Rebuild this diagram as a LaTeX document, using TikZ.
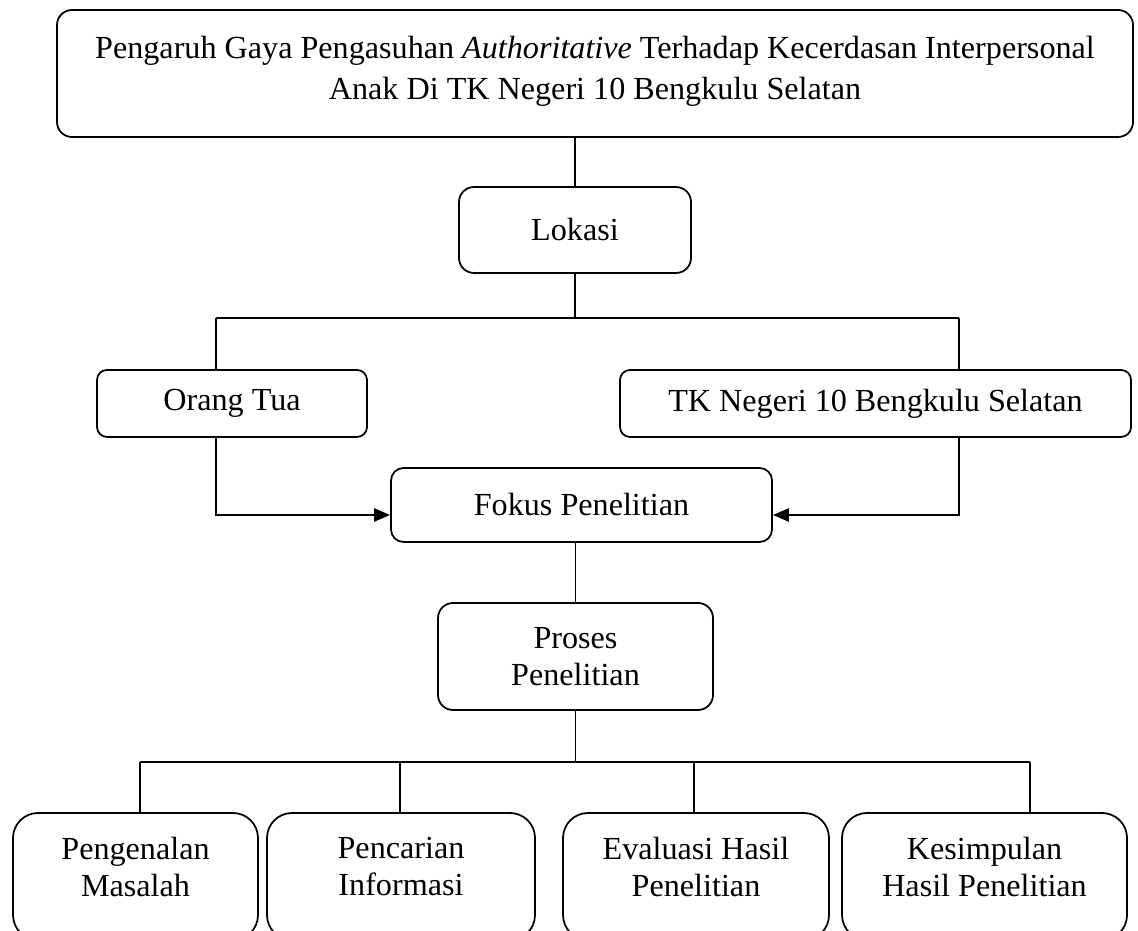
\documentclass[tikz,border=0pt]{standalone}
\usepackage{fontspec}
\setmainfont{Liberation Serif}
\usetikzlibrary{arrows.meta}

\begin{document}
\begin{tikzpicture}[
  kotak/.style={draw, line width=1pt, rounded corners=0.3cm, align=center,
    font=\fontsize{18.3}{20.8}\selectfont},
  kotakbawah/.style={kotak, rounded corners=0.5cm, minimum height=2.54cm,
    font=\fontsize{18.3}{21.1}\selectfont},
  garis/.style={line width=0.8pt},
  panah/.style={line width=1.4pt, -{Triangle[length=0.32cm,width=0.26cm]}}
]
\useasboundingbox (0, 0) rectangle (22.76, 18.6);
\node [kotak, font=\fontsize{18.3}{23.4}\selectfont, minimum width=21.52cm, minimum height=2.54cm] (judul) at (11.9, 17.13)
  {Pengaruh Gaya Pengasuhan \textit{Authoritative} Terhadap Kecerdasan Interpersonal\\ Anak Di TK Negeri 10 Bengkulu Selatan\rule[-0.22cm]{0pt}{0pt}};
\node [kotak, minimum width=4.64cm, minimum height=1.72cm] (lokasi) at (11.5, 14.0) {Lokasi};
\node [kotak, rounded corners=0.2cm, minimum width=5.4cm, minimum height=1.34cm] (orangtua) at (4.64, 10.53) {Orang Tua};
\node [kotak, rounded corners=0.2cm, minimum width=10.22cm, minimum height=1.34cm] (tk) at (17.51, 10.53) {TK Negeri 10 Bengkulu Selatan};
\node [kotak, rounded corners=0.25cm, minimum width=7.62cm, minimum height=1.48cm] (fokus) at (11.63, 8.5) {Fokus Penelitian};
\node [kotak, minimum width=5.5cm, minimum height=2.14cm] (proses) at (11.51, 5.47) {Proses\\ Penelitian};
\node [kotakbawah, minimum width=4.9cm] (masalah) at (2.71, 1.07) {Pengenalan\\ Masalah\rule[-0.4cm]{0pt}{0pt}};
\node [kotakbawah, minimum width=5.36cm] (informasi) at (8.02, 1.07) {Pencarian\\ Informasi\rule[-0.4cm]{0pt}{0pt}};
\node [kotakbawah, minimum width=5.32cm] (evaluasi) at (13.92, 1.07) {Evaluasi Hasil\\ Penelitian\rule[-0.4cm]{0pt}{0pt}};
\node [kotakbawah, minimum width=5.7cm] (kesimpulan) at (19.69, 1.07) {Kesimpulan\\ Hasil Penelitian\rule[-0.4cm]{0pt}{0pt}};
% cabang
\coordinate (cabkiri) at (4.32, 12.24);
\coordinate (cabkanan) at (19.18, 12.24);
\coordinate (bawahkiri) at (2.8, 3.36);
\coordinate (bawahkanan) at (20.6, 3.36);
\draw [garis] (lokasi.north) -- (lokasi.north |- judul.south);
\draw [garis] (lokasi.south) -- (lokasi.south |- cabkiri);
\draw [garis] (cabkiri) -- (cabkanan);
\draw [garis] (cabkiri) -- (cabkiri |- orangtua.north);
\draw [garis] (cabkanan) -- (cabkanan |- tk.north);
\draw [panah] (cabkiri |- orangtua.south) |- ([yshift=-0.2cm]fokus.west);
\draw [panah] (cabkanan |- tk.south) |- ([yshift=-0.2cm]fokus.east);
\draw [garis] (proses.north) -- (proses.north |- fokus.south);
\draw [garis] (proses.south) -- (proses.south |- bawahkiri);
\draw [garis] (bawahkiri) -- (bawahkanan);
\draw [garis] (bawahkiri) -- (bawahkiri |- masalah.north);
\draw [garis] (8.0, 3.36) -- (8.0, 3.36 |- informasi.north);
\draw [garis] (13.88, 3.36) -- (13.88, 3.36 |- evaluasi.north);
\draw [garis] (bawahkanan) -- (bawahkanan |- kesimpulan.north);
\end{tikzpicture}
\end{document}
